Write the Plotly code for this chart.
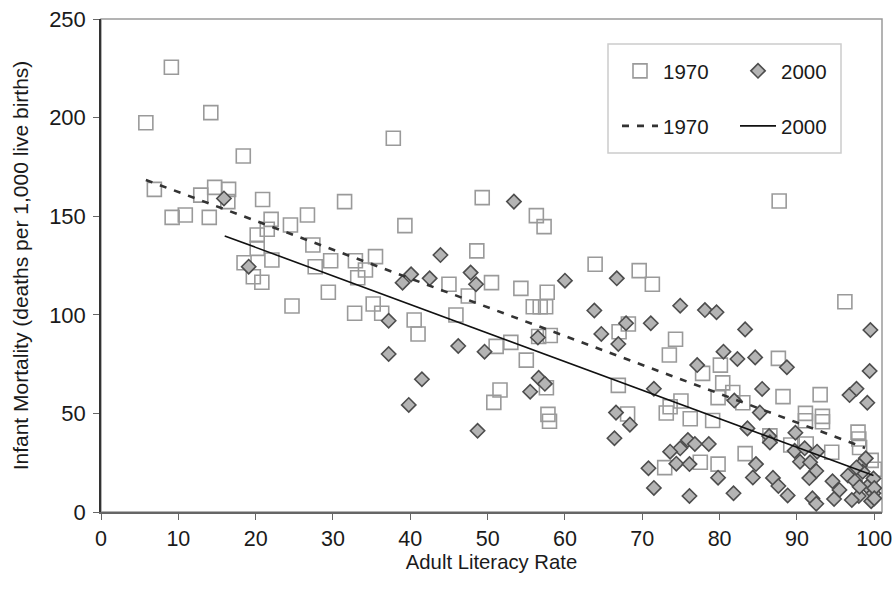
import plotly.graph_objects as go

# ---- data ----
lit_1970 = [5.8, 9.1, 14.2, 18.4, 6.9, 12.9, 14.7, 16.5, 16.4, 9.2, 10.9, 14.0,
            20.9, 22.0, 21.5, 20.2, 24.5, 26.7, 31.5, 20.2, 22.1, 18.5, 19.7, 20.8,
            27.4, 27.7, 29.7, 29.4, 24.7, 37.8, 49.3, 39.3, 56.3, 57.3, 48.6, 63.9,
            32.9, 35.5, 34.2, 33.2, 45.0, 47.5, 50.5, 54.3, 57.7, 55.9, 56.8, 57.5,
            35.2, 32.8, 36.3, 40.5, 45.9, 41.0, 51.1, 50.8, 51.6,
            53.0, 55.0, 56.6, 58.1, 57.6, 57.8, 58.0,
            69.6, 71.3, 96.2, 87.7, 68.2, 67.0, 74.3, 73.5, 80.1, 77.8, 87.6,
            80.4, 81.7, 79.8, 83.0, 88.2, 93.0, 66.9, 75.0, 73.6, 73.1, 68.1, 76.2, 79.1,
            91.1, 91.1, 93.3, 93.3, 97.9, 98.0, 98.1, 86.5, 89.2, 91.2, 94.5,
            83.3, 77.5, 72.9, 79.8, 99.6, 100.0]
imr_1970 = [197.4, 225.5, 202.5, 180.5, 163.6, 160.7, 164.6, 163.6, 157.4, 149.4, 150.6, 149.4,
            158.5, 148.4, 143.4, 140.5, 145.5, 150.6, 157.4, 133.7, 127.8, 126.4, 119.3, 116.5,
            135.4, 124.4, 127.4, 111.4, 104.5, 189.5, 159.4, 145.2, 150.3, 144.7, 132.4, 125.6,
            127.4, 129.5, 122.7, 118.8, 115.5, 109.5, 116.3, 113.4, 111.4, 104.1, 104.1, 104.1,
            105.5, 100.8, 100.8, 97.4, 99.9, 90.3, 84.0, 55.6, 61.9,
            86.0, 77.0, 89.0, 89.5, 63.0, 49.5, 46.0,
            122.4, 115.5, 106.6, 157.7, 95.3, 91.4, 87.6, 79.6, 74.5, 70.3, 77.9,
            65.5, 60.6, 58.0, 55.4, 58.5, 59.5, 64.2, 56.3, 53.4, 50.2, 49.7, 47.3, 46.4,
            50.0, 46.3, 48.5, 45.8, 40.5, 37.0, 32.7, 38.6, 34.0, 34.5, 30.3,
            29.6, 25.2, 22.5, 24.3, 26.2, 21.7]

lit_2000 = [15.9, 19.1, 53.4, 43.9, 40.1, 39.0, 42.5, 47.8, 48.5, 60.0, 63.8, 37.2,
            37.2, 41.5, 39.8, 46.2, 49.6, 48.7, 56.5, 56.6, 57.4, 55.5,
            66.7, 74.9, 78.1, 79.6, 71.1, 67.9, 64.7, 66.9, 83.3, 99.5,
            80.5, 82.3, 84.6, 77.1, 88.7, 99.4, 71.5, 85.5, 81.9, 96.8, 97.7, 99.1,
            85.2, 66.6, 68.4, 66.4, 83.6, 86.4, 86.5, 89.8,
            75.9, 74.9, 76.8, 78.6, 73.6, 74.4, 76.1, 70.8,
            71.5, 76.1, 79.8, 81.8, 84.3, 84.7, 86.9, 87.6, 88.8,
            89.7, 91.0, 92.6, 90.4, 91.7, 92.5, 91.6, 94.6, 95.5, 92.0, 92.5, 94.8,
            96.6, 97.5, 98.9, 98.1, 99.9, 99.1, 99.9, 98.0, 97.1, 99.6, 98.1, 98.5,
            100.0, 100.0, 97.7]
imr_2000 = [159.0, 124.4, 157.4, 130.3, 120.5, 116.3, 118.5, 121.4, 115.5, 117.3, 102.2, 97.0,
            80.1, 67.3, 54.3, 84.2, 81.3, 41.2, 88.5, 68.0, 65.0, 61.0,
            118.5, 104.6, 102.4, 101.3, 95.7, 95.7, 90.3, 85.2, 92.6, 92.3,
            81.3, 77.6, 78.4, 74.5, 73.4, 71.5, 62.5, 62.4, 56.5, 59.3, 62.5, 55.4,
            50.4, 50.4, 44.3, 37.4, 42.4, 38.5, 35.3, 40.2,
            36.5, 32.3, 34.5, 34.5, 30.6, 24.5, 24.3, 22.2,
            12.2, 8.1, 17.4, 9.5, 17.5, 24.3, 17.3, 13.2, 8.4,
            31.0, 32.3, 30.6, 25.5, 25.2, 20.8, 17.2, 15.6, 11.2, 6.9, 4.2, 6.6,
            18.5, 15.7, 27.2, 23.4, 17.0, 12.8, 9.5, 8.1, 6.1, 5.5, 12.8, 20.4,
            12.1, 6.9, 22.6]

trend_1970_x = [5.8, 98.8]
trend_1970_y = [168.4, 32.5]
trend_2000_x = [16.0, 99.9]
trend_2000_y = [140.0, 18.5]

x_ticks = [0, 10, 20, 30, 40, 50, 60, 70, 80, 90, 100]
y_ticks = [0, 50, 100, 150, 200, 250]

FONT = "Liberation Sans, Arial, sans-serif"
TXT = "#1a1a1a"

fig = go.Figure()
fig.add_trace(go.Scatter(
    x=lit_1970, y=imr_1970, mode="markers", name="1970", legend="legend",
    marker=dict(symbol="square-open", size=14, color="#9a9a9a", line=dict(width=1.6, color="#9a9a9a")),
))
fig.add_trace(go.Scatter(
    x=lit_2000, y=imr_2000, mode="markers", name="2000", legend="legend",
    marker=dict(symbol="diamond", size=11, color="#b4b4b4", line=dict(width=1.6, color="#4d4d4d")),
))
fig.add_trace(go.Scatter(
    x=trend_1970_x, y=trend_1970_y, mode="lines", name="1970", legend="legend2",
    line=dict(color="#333333", width=2.6, dash="7px,8px"),
))
fig.add_trace(go.Scatter(
    x=trend_2000_x, y=trend_2000_y, mode="lines", name="2000", legend="legend2",
    line=dict(color="#111111", width=1.6),
))

W, H = 894, 590
L, R, T, B = 101, 12, 19, 78
pw, ph = W - L - R, H - T - B

def px(xp):
    return (xp - L) / pw

def py(yp):
    return (H - B - yp) / ph

fig.update_layout(
    width=W, height=H,
    margin=dict(l=L, r=R, t=T, b=B, pad=0, autoexpand=False),
    paper_bgcolor="white", plot_bgcolor="white",
    font=dict(family=FONT, size=20, color=TXT),
    showlegend=True,
    legend=dict(orientation="h", x=px(617), xanchor="left", y=py(71), yanchor="middle",
                bgcolor="rgba(0,0,0,0)", borderwidth=0, entrywidth=67, entrywidthmode="pixels",
                itemwidth=36, font=dict(size=20.5, family=FONT, color=TXT)),
    legend2=dict(orientation="h", x=px(617), xanchor="left", y=py(126), yanchor="middle",
                 bgcolor="rgba(0,0,0,0)", borderwidth=0, entrywidth=67, entrywidthmode="pixels",
                 itemwidth=36, font=dict(size=20.5, family=FONT, color=TXT)),
    shapes=[
        dict(type="rect", xref="paper", yref="paper", x0=0, x1=1, y0=0, y1=1,
             line=dict(color="#9a9a9a", width=1.5), layer="below"),
        dict(type="rect", xref="paper", yref="paper", x0=px(608), x1=px(841), y0=py(153), y1=py(44),
             line=dict(color="#cccccc", width=1.5), fillcolor="white", layer="below"),
    ],
)

fig.update_xaxes(
    range=[0, 101], tickvals=x_ticks, ticktext=[str(v) for v in x_ticks],
    automargin=False,
    showgrid=False, zeroline=False, showline=True, linecolor="#666666", linewidth=1.5,
    ticks="outside", ticklen=6, tickcolor="#666666", tickwidth=1.2,
    ticklabeloverflow="allow",
    tickfont=dict(size=21.5, family=FONT, color=TXT),
    title=dict(text="Adult Literacy Rate", font=dict(size=20.3, family=FONT, color=TXT), standoff=5),
)
fig.update_yaxes(
    range=[0, 250], tickvals=y_ticks, ticktext=[str(v) for v in y_ticks],
    automargin=False,
    showgrid=False, zeroline=False, showline=True, linecolor="#333333", linewidth=1.5,
    ticks="outside", ticklen=6, tickcolor="#666666", tickwidth=1.2,
    ticklabeloverflow="allow", ticklabelstandoff=3,
    tickfont=dict(size=22, family=FONT, color=TXT),
    title=dict(text="Infant Mortality (deaths per 1,000 live births)",
               font=dict(size=21, family=FONT, color=TXT), standoff=15),
)

fig.write_html("out.html", config={"displayModeBar": False},
               post_script="document.body.style.margin='0px';")
